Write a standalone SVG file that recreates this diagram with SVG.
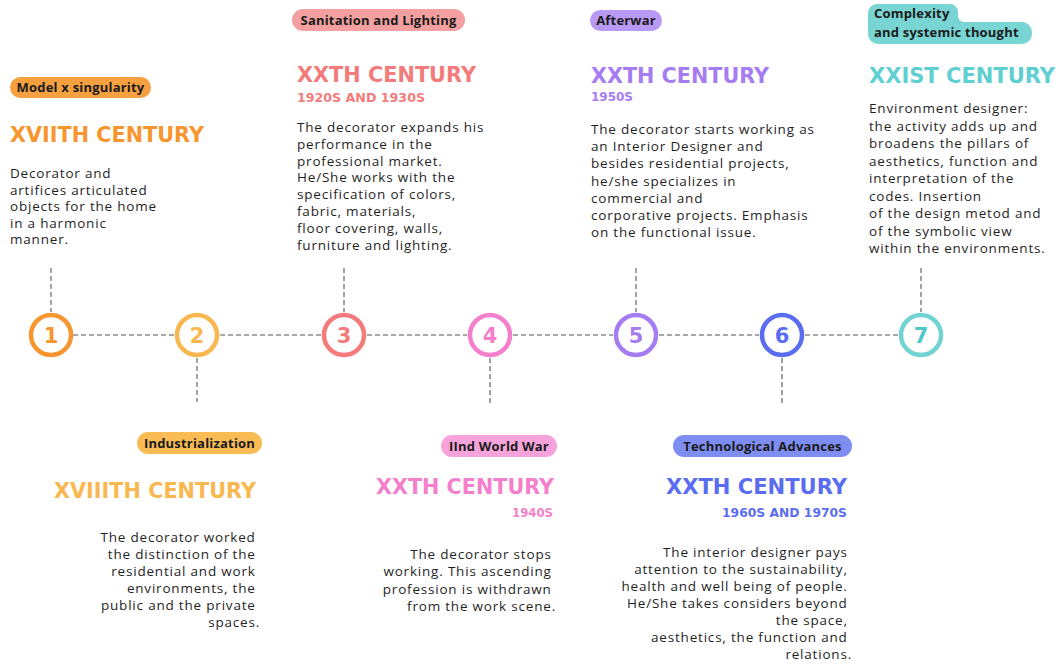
<svg xmlns="http://www.w3.org/2000/svg" width="1058" height="664" viewBox="0 0 1058 664">
  <style>
    .pill-t { font-family: "Open Sans", "Liberation Sans", sans-serif; font-weight: 700; font-size: 13px; letter-spacing: 0.2px; fill: #1a1a1a; }
    .title { font-family: "DejaVu Sans", "Liberation Sans", sans-serif; font-weight: 700; font-size: 21px; }
    .sub { font-family: "DejaVu Sans", "Liberation Sans", sans-serif; font-weight: 700; font-size: 12px; }
    .body { font-family: "Open Sans", "Liberation Sans", sans-serif; font-size: 13.5px; font-weight: 500; letter-spacing: 0.8px; fill: #1f1f1f; }
    .r { text-anchor: end; }
    .ring { fill: #ffffff; stroke-width: 4.5; }
    .num { font-family: "DejaVu Sans", "Liberation Sans", sans-serif; font-weight: 700; font-size: 21px; text-anchor: middle; }
    .dash { stroke: #8c8c8c; stroke-width: 1.6; stroke-dasharray: 5 3; fill: none; }
  </style>

  <rect width="1058" height="664" fill="#ffffff"/>

  <!-- timeline connectors -->
  <g id="connectors">
    <line class="dash" x1="73" y1="335" x2="174" y2="335"/>
    <line class="dash" x1="220" y1="335" x2="321" y2="335"/>
    <line class="dash" x1="367" y1="335" x2="467" y2="335"/>
    <line class="dash" x1="513" y1="335" x2="613" y2="335"/>
    <line class="dash" x1="659" y1="335" x2="759" y2="335"/>
    <line class="dash" x1="805" y1="335" x2="898" y2="335"/>
    <line class="dash" x1="51" y1="268" x2="51" y2="312"/>
    <line class="dash" x1="344" y1="268" x2="344" y2="312"/>
    <line class="dash" x1="636" y1="268" x2="636" y2="312"/>
    <line class="dash" x1="921" y1="268" x2="921" y2="312"/>
    <line class="dash" x1="197" y1="358" x2="197" y2="402"/>
    <line class="dash" x1="490" y1="358" x2="490" y2="405"/>
    <line class="dash" x1="782" y1="358" x2="782" y2="405"/>
  </g>

  <!-- 1: XVIIth century -->
  <g id="node1">
    <rect x="10" y="77" width="141" height="21" rx="10.5" fill="#F6A040"/>
    <text class="pill-t" x="80.5" y="92" text-anchor="middle">Model x singularity</text>
    <text class="title" x="10" y="142" fill="#F7952E" textLength="194" lengthAdjust="spacingAndGlyphs">XVIITH CENTURY</text>
    <text class="body" x="10" y="178">
      <tspan x="10">Decorator and</tspan>
      <tspan x="10" dy="16.5">artifices articulated</tspan>
      <tspan x="10" dy="16.5">objects for the home</tspan>
      <tspan x="10" dy="16.5">in a harmonic</tspan>
      <tspan x="10" dy="16.5">manner.</tspan>
    </text>
    <circle class="ring" cx="51" cy="335" r="20" stroke="#F7952E"/>
    <text class="num" x="51" y="343" fill="#F7952E">1</text>
  </g>

  <!-- 2: XVIIIth century -->
  <g id="node2">
    <rect x="137" y="432" width="125" height="22" rx="11" fill="#F9BC55"/>
    <text class="pill-t" x="199.5" y="447.5" text-anchor="middle">Industrialization</text>
    <text class="title" x="54" y="498" fill="#F9B84F" textLength="202" lengthAdjust="spacingAndGlyphs">XVIIITH CENTURY</text>
    <text class="body r" x="260" y="542">
      <tspan x="260">The decorator worked</tspan>
      <tspan x="260" dy="17">the distinction of the</tspan>
      <tspan x="260" dy="17">residential and work</tspan>
      <tspan x="260" dy="17">environments, the</tspan>
      <tspan x="260" dy="17">public and the private</tspan>
      <tspan x="260" dy="17">spaces.</tspan>
    </text>
    <circle class="ring" cx="197" cy="335" r="20" stroke="#F9B84F"/>
    <text class="num" x="197" y="343" fill="#F9B84F">2</text>
  </g>

  <!-- 3: XXth century, 1920s and 1930s -->
  <g id="node3">
    <rect x="292" y="9" width="173" height="22" rx="11" fill="#F4A0A0"/>
    <text class="pill-t" x="378.5" y="24.5" text-anchor="middle">Sanitation and Lighting</text>
    <text class="title" x="297" y="82" fill="#F47B7B" textLength="179" lengthAdjust="spacingAndGlyphs">XXTH CENTURY</text>
    <text class="sub" x="297" y="102" fill="#F47B7B" textLength="128" lengthAdjust="spacingAndGlyphs">1920S AND 1930S</text>
    <text class="body" x="297" y="132">
      <tspan x="297">The decorator expands his</tspan>
      <tspan x="297" dy="16.8">performance in the</tspan>
      <tspan x="297" dy="16.8">professional market.</tspan>
      <tspan x="297" dy="16.8">He/She works with the</tspan>
      <tspan x="297" dy="16.8">specification of colors,</tspan>
      <tspan x="297" dy="16.8">fabric, materials,</tspan>
      <tspan x="297" dy="16.8">floor covering, walls,</tspan>
      <tspan x="297" dy="16.8">furniture and lighting.</tspan>
    </text>
    <circle class="ring" cx="344" cy="335" r="20" stroke="#F47B7B"/>
    <text class="num" x="344" y="343" fill="#F47B7B">3</text>
  </g>

  <!-- 4: XXth century, 1940s -->
  <g id="node4">
    <rect x="441" y="435" width="116" height="22" rx="11" fill="#F5A3DA"/>
    <text class="pill-t" x="499" y="450.5" text-anchor="middle">IInd World War</text>
    <text class="title r" x="554" y="494" fill="#F47FCC" textLength="178" lengthAdjust="spacingAndGlyphs">XXTH CENTURY</text>
    <text class="sub r" x="553" y="517" fill="#F47FCC" textLength="41" lengthAdjust="spacingAndGlyphs">1940S</text>
    <text class="body r" x="556" y="559">
      <tspan x="556">The decorator stops</tspan>
      <tspan x="556" dy="17.3">working. This ascending</tspan>
      <tspan x="556" dy="17.3">profession is withdrawn</tspan>
      <tspan x="556" dy="17.3">from the work scene.</tspan>
    </text>
    <circle class="ring" cx="490" cy="335" r="20" stroke="#F47FCC"/>
    <text class="num" x="490" y="343" fill="#F47FCC">4</text>
  </g>

  <!-- 5: XXth century, 1950s -->
  <g id="node5">
    <rect x="590" y="10" width="72" height="21" rx="10.5" fill="#B899F5"/>
    <text class="pill-t" x="626" y="25" text-anchor="middle">Afterwar</text>
    <text class="title" x="591" y="83" fill="#A67CF3" textLength="178" lengthAdjust="spacingAndGlyphs">XXTH CENTURY</text>
    <text class="sub" x="591" y="101" fill="#A67CF3" textLength="42" lengthAdjust="spacingAndGlyphs">1950S</text>
    <text class="body" x="591" y="134">
      <tspan x="591">The decorator starts working as</tspan>
      <tspan x="591" dy="17.2">an Interior Designer and</tspan>
      <tspan x="591" dy="17.2">besides residential projects,</tspan>
      <tspan x="591" dy="17.2">he/she specializes in</tspan>
      <tspan x="591" dy="17.2">commercial and</tspan>
      <tspan x="591" dy="17.2">corporative projects. Emphasis</tspan>
      <tspan x="591" dy="17.2">on the functional issue.</tspan>
    </text>
    <circle class="ring" cx="636" cy="335" r="20" stroke="#A67CF3"/>
    <text class="num" x="636" y="343" fill="#A67CF3">5</text>
  </g>

  <!-- 6: XXth century, 1960s and 1970s -->
  <g id="node6">
    <rect x="673" y="435" width="179" height="22" rx="11" fill="#7D8DF2"/>
    <text class="pill-t" x="762.5" y="450.5" text-anchor="middle">Technological Advances</text>
    <text class="title r" x="847" y="494" fill="#5A6DF0" textLength="181" lengthAdjust="spacingAndGlyphs">XXTH CENTURY</text>
    <text class="sub r" x="847" y="517" fill="#5A6DF0" textLength="125" lengthAdjust="spacingAndGlyphs">1960S AND 1970S</text>
    <text class="body r" x="852" y="557">
      <tspan x="852">The interior designer pays</tspan>
      <tspan x="852" dy="17">attention to the sustainability,</tspan>
      <tspan x="852" dy="17">health and well being of people.</tspan>
      <tspan x="852" dy="17">He/She takes considers beyond</tspan>
      <tspan x="852" dy="17">the space,</tspan>
      <tspan x="852" dy="17">aesthetics, the function and</tspan>
      <tspan x="852" dy="17">relations.</tspan>
    </text>
    <circle class="ring" cx="782" cy="335" r="20" stroke="#5A6DF0"/>
    <text class="num" x="782" y="343" fill="#5A6DF0">6</text>
  </g>

  <!-- 7: XXIst century -->
  <g id="node7">
    <path d="M877 4 H950 A8 8 0 0 1 958 12 V16 A6 6 0 0 0 964 22 H1022 A10 10 0 0 1 1032 32 V34 A10 10 0 0 1 1022 44 H878 A10 10 0 0 1 868 34 V13 A9 9 0 0 1 877 4 Z" fill="#79D4D4"/>
    <text class="pill-t" x="874" y="18">Complexity</text>
    <text class="pill-t" x="874" y="37">and systemic thought</text>
    <text class="title" x="869" y="83" fill="#5FD0D1" textLength="186" lengthAdjust="spacingAndGlyphs">XXIST CENTURY</text>
    <text class="body" x="869" y="113">
      <tspan x="869">Environment designer:</tspan>
      <tspan x="869" dy="17.5">the activity adds up and</tspan>
      <tspan x="869" dy="17.5">broadens the pillars of</tspan>
      <tspan x="869" dy="17.5">aesthetics, function and</tspan>
      <tspan x="869" dy="17.5">interpretation of the</tspan>
      <tspan x="869" dy="17.5">codes. Insertion</tspan>
      <tspan x="869" dy="17.5">of the design metod and</tspan>
      <tspan x="869" dy="17.5">of the symbolic view</tspan>
      <tspan x="869" dy="17.5">within the environments.</tspan>
    </text>
    <circle class="ring" cx="921" cy="335" r="20" stroke="#73D2D2"/>
    <text class="num" x="921" y="343" fill="#4FC6C8">7</text>
  </g>
</svg>
